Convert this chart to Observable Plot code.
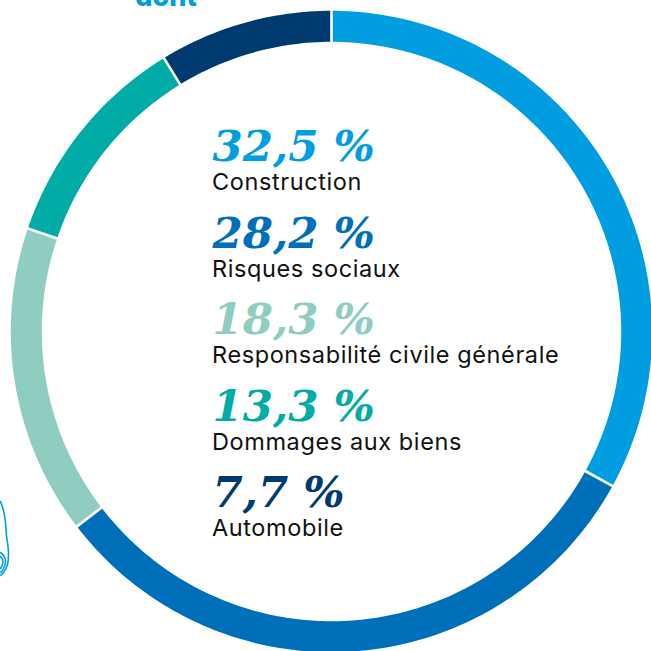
<!DOCTYPE html>
<html><head><meta charset="utf-8">
<script src="https://cdn.jsdelivr.net/npm/d3@7"></script>
<script src="https://cdn.jsdelivr.net/npm/@observablehq/plot@0.6"></script>
<style>html,body{margin:0;padding:0;background:#fff;overflow:hidden}svg{display:block}</style>
</head><body><div id="chart"></div>
<script>
const categories = ["Construction","Risques sociaux","Responsabilité civile générale","Dommages aux biens","Automobile"];
const percentLabels = ["32,5 %","28,2 %","18,3 %","13,3 %","7,7 %"];
// arc spans as drawn in the picture, in percent of the ring
const drawnShares = [33.0,31.6,15.6,11.05,8.75];
const colors = ["#009EE0","#006FB9","#8FCDC1","#00ACA5","#003A70"];

const cx = 331, cy = 331, midR = 305.2, ringW = 31, sepIn = 288, sepOut = 323;
const polar = (deg, r) => { const a = deg*Math.PI/180; return [cx + r*Math.sin(a), cy - r*Math.cos(a)]; };

const arcPts = [], seps = [];
let acc = 0;
drawnShares.forEach((s,i) => {
  const a0 = acc*3.6, a1 = (acc+s)*3.6;
  const n = Math.ceil(a1-a0);
  for (let k=0;k<=n;k++){ const [x,y]=polar(a0+(a1-a0)*k/n, midR); arcPts.push({x,y,cat:categories[i]}); }
  const [x1,y1]=polar(a0,sepIn), [x2,y2]=polar(a0,sepOut);
  seps.push({x1,y1,x2,y2});
  acc += s;
});

const rowTop = 160.5, rowStep = 86.5;
const rows = categories.map((c,i)=>({c, p:percentLabels[i], yn:rowTop+i*rowStep, yl:rowTop+29+i*rowStep, col:colors[i]}));

const squiggleA = [[0,501],[3,510],[5,522],[6,535],[8,552],[7,564],[3,572],[0,575]];
const squiggleB = [[0,552],[3,555],[5,561],[3,568],[0,572]];
const squiggleC = [[0,556],[2,559],[2,564],[0,568]];
const sq = (arr,id)=>arr.map(([x,y])=>({x,y,id}));

const chart = Plot.plot({
  width:651,height:651,margin:0,
  x:{domain:[0,651],range:[0,651],axis:null},
  y:{domain:[0,651],range:[0,651],axis:null},
  color:{domain:categories,range:colors},
  style:{background:"#fff"},
  marks:[
    Plot.line(arcPts,{x:"x",y:"y",z:"cat",stroke:"cat",strokeWidth:ringW,strokeLinecap:"butt",strokeLinejoin:"round",curve:"linear"}),
    Plot.link(seps,{x1:"x1",y1:"y1",x2:"x2",y2:"y2",stroke:"#fff",strokeWidth:2.6}),
    Plot.line([...sq(squiggleA,"a"),...sq(squiggleB,"b"),...sq(squiggleC,"c")],{x:"x",y:"y",z:"id",stroke:"#009EE0",strokeWidth:1.6,curve:"catmull-rom"}),
    Plot.text(["dont"],{x:()=>165.5,y:()=>5,text:d=>d,fill:"#009EE0",fontFamily:"Inter",fontWeight:800,fontSize:27,textAnchor:"middle",lineAnchor:"bottom"}),
    Plot.text(rows,{x:()=>212,y:"yn",text:"p",fill:"col",fontFamily:"DejaVu Serif",fontStyle:"italic",fontWeight:700,fontSize:43.5,textAnchor:"start",lineAnchor:"bottom"}),
    Plot.text(rows,{x:()=>211.5,y:"yl",text:"c",fill:"#111",fontFamily:"Inter",fontWeight:400,fontSize:23.5,textAnchor:"start",lineAnchor:"bottom",className:"lbl"})
  ]
});
chart.querySelectorAll(".lbl text").forEach(t=>{ t.style.letterSpacing="0.6px"; });
document.getElementById("chart").append(chart);
</script></body></html>
